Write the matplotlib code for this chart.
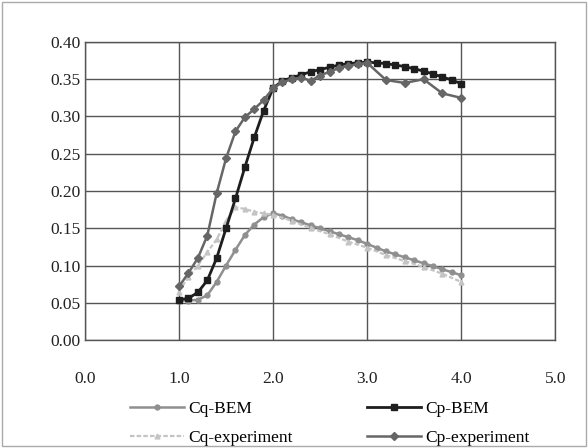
import matplotlib
matplotlib.use("Agg")
import matplotlib.pyplot as plt
from matplotlib.patches import Rectangle

# datos (data)
x_bem = [1.0, 1.1, 1.2, 1.3, 1.4, 1.5, 1.6, 1.7, 1.8, 1.9, 2.0,
         2.1, 2.2, 2.3, 2.4, 2.5, 2.6, 2.7, 2.8, 2.9, 3.0,
         3.1, 3.2, 3.3, 3.4, 3.5, 3.6, 3.7, 3.8, 3.9, 4.0]
cq_bem = [0.053, 0.053, 0.054, 0.060, 0.078, 0.100, 0.121, 0.141, 0.155, 0.165, 0.170,
          0.167, 0.162, 0.158, 0.154, 0.150, 0.146, 0.142, 0.138, 0.134, 0.129,
          0.124, 0.119, 0.115, 0.111, 0.107, 0.103, 0.099, 0.095, 0.091, 0.087]
cp_bem = [0.054, 0.056, 0.064, 0.080, 0.110, 0.150, 0.190, 0.232, 0.272, 0.308, 0.338,
          0.348, 0.352, 0.356, 0.360, 0.363, 0.366, 0.369, 0.371, 0.372, 0.373,
          0.372, 0.371, 0.369, 0.367, 0.364, 0.361, 0.357, 0.353, 0.349, 0.344]

x_cq_exp = [1.0, 1.1, 1.2, 1.3, 1.4, 1.5, 1.6, 1.7, 1.8, 1.9, 2.0,
            2.2, 2.4, 2.6, 2.8, 3.0, 3.2, 3.4, 3.6, 3.8, 4.0]
cq_exp = [0.065, 0.085, 0.100, 0.118, 0.135, 0.160, 0.178, 0.176, 0.172, 0.170, 0.168,
          0.160, 0.150, 0.142, 0.132, 0.124, 0.114, 0.106, 0.098, 0.089, 0.078]

x_cp_exp = [1.0, 1.1, 1.2, 1.3, 1.4, 1.5, 1.6, 1.7, 1.8, 1.9, 2.0,
            2.1, 2.2, 2.3, 2.4, 2.5, 2.6, 2.7, 2.8, 2.9, 3.0,
            3.2, 3.4, 3.6, 3.8, 4.0]
cp_exp = [0.072, 0.090, 0.110, 0.140, 0.197, 0.244, 0.280, 0.299, 0.310, 0.322, 0.338,
          0.346, 0.350, 0.352, 0.348, 0.355, 0.360, 0.365, 0.368, 0.370, 0.372,
          0.349, 0.345, 0.350, 0.331, 0.325]

x_ticks = [0.0, 1.0, 2.0, 3.0, 4.0, 5.0]
y_ticks = [0.00, 0.05, 0.10, 0.15, 0.20, 0.25, 0.30, 0.35, 0.40]

plt.rcParams['font.family'] = ['Liberation Serif', 'DejaVu Serif']

fig = plt.figure(figsize=(5.88, 4.48), dpi=100)
ax = fig.add_axes([0.1446, 0.241, 0.7996, 0.6653])

# curvas (curves)
ax.plot(x_bem, cq_bem, color='#8f8f8f', lw=1.8, marker='o', ms=3.5, label='Cq-BEM')
ax.plot(x_cq_exp, cq_exp, color='#c4c4c4', lw=1.6, marker='^', ms=3.5, ls=(0, (2, 1)), label='Cq-experiment')
ax.plot(x_bem, cp_bem, color='#1e1e1e', lw=2.0, marker='s', ms=4.5, label='Cp-BEM')
ax.plot(x_cp_exp, cp_exp, color='#666666', lw=1.8, marker='D', ms=4, label='Cp-experiment')

ax.set_xlim(0, 5)
ax.set_ylim(0, 0.40)
ax.set_xticks(x_ticks)
ax.set_yticks(y_ticks)
ax.set_xticklabels([f'{v:.1f}' for v in x_ticks])
ax.set_yticklabels([f'{v:.2f}' for v in y_ticks])
ax.tick_params(length=0, labelsize=12.5, colors='#222222')
ax.tick_params(axis='y', pad=3)
ax.tick_params(axis='x', pad=22)
ax.grid(True, color='#555555', lw=1.0)
ax.set_axisbelow(True)
for s in ax.spines.values():
    s.set_color('#555555')
    s.set_linewidth(1.0)

ax.legend(loc='upper left', bbox_to_anchor=(0.221, 0.105), bbox_transform=fig.transFigure,
          ncol=2, frameon=False, borderpad=0, borderaxespad=0,
          fontsize=12.5, handlelength=3.1, handletextpad=0.25, columnspacing=4.3,
          labelspacing=0.75)

# marco exterior (outer frame)
fig.patches.append(Rectangle((0.004, 0.004), 0.992, 0.992, transform=fig.transFigure,
                             fill=False, ec='#aaaaaa', lw=1.0))

fig.savefig('out.png', dpi=100)
